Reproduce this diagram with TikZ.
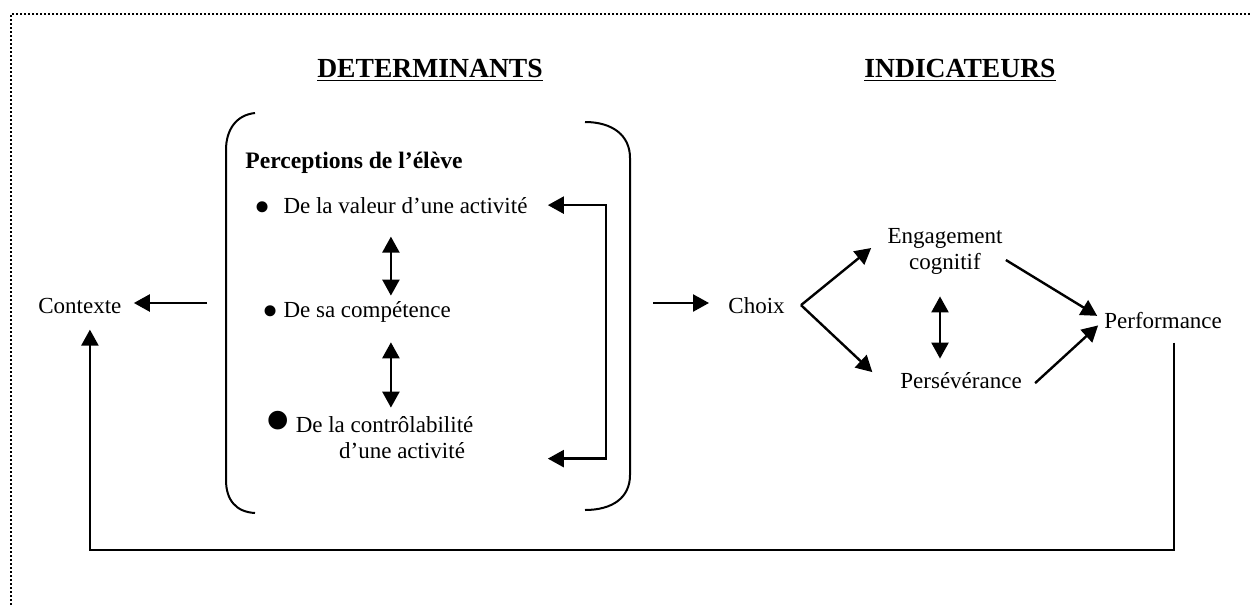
\documentclass[tikz,border=0pt]{standalone}
\usepackage{fontspec}
\usepackage{graphicx}
\setmainfont{Liberation Serif}
\usetikzlibrary{arrows.meta}
\usetikzlibrary{positioning}

\newcommand{\puce}[2]{\raisebox{#2}[0pt][0pt]{\scalebox{#1}{\textbullet}}}

\tikzset{
  txt/.style={inner sep=0pt, font=\fontsize{11.5}{13}\selectfont},
  head/.style={inner sep=0pt, font=\fontsize{13.8}{16}\selectfont\bfseries},
  itm/.style={txt, align=left},
  arr/.style={-{Triangle[length=8pt,width=8.5pt]}, line width=1.2pt},
  dbl/.style={{Triangle[length=8pt,width=8.5pt]}-{Triangle[length=8pt,width=8.5pt]}, line width=1.2pt},
  brace/.style={line width=1pt},
  dotline/.style={line width=1pt, dash pattern=on 1pt off 1pt},
}

\begin{document}
\begin{tikzpicture}[x=0.5pt,y=-0.5pt]
  \useasboundingbox (0,0) rectangle (1252,605);
  % frame
  \draw[dotline] (11,605) -- (11,14) -- (1252,14);

  % titles
  \node[head] (det) at (430,70) {\underline{DETERMINANTS}};
  \node[head] (ind) at (960,70) {\underline{INDICATEURS}};

  % perceptions (bracket)
  \draw[brace] (255,113) .. controls (236,115) and (226,130) .. (226,150)
    -- (226,480) .. controls (226,500) and (236,512) .. (255,513);
  \draw[brace] (585,122) .. controls (612,122) and (630,135) .. (630,158)
    -- (630,475) .. controls (630,498) and (612,510) .. (585,510);
  \node[txt, font=\fontsize{11.8}{13}\selectfont\bfseries, anchor=base west] (perc) at (245,168) {Perceptions de l’élève};
  \node[itm, anchor=base west] (val) at (254,213) {\puce{2}{-4.5pt}\hspace{6.5pt}De la valeur d’une activité};
  \node[itm, anchor=base west] (comp) at (262,317) {\puce{2}{-4.5pt}\hspace{2.5pt}De sa compétence};
  \node[itm, anchor=base west] (ctrl) at (264,458) {\puce{3.4}{-7pt}\hspace{2pt}De la contrôlabilité\\ \hspace*{3.25em}d’une activité};

  \draw[dbl, shorten <=11.5pt, shorten >=2.5pt] (val.south) -- (val.south |- comp.north);
  \draw[dbl, shorten <=10pt] (val.south |- comp.south) -- ([yshift=4pt]val.south |- ctrl.north);
  \draw[dbl] ([xshift=10pt]val.east) -- ++(58,0) |- ([xshift=10pt]val.east |- ctrl.south);

  % left side
  \node[txt, anchor=base west] (ctx) at (38,313) {Contexte};
  \coordinate (boxL) at (207,303);
  \draw[arr, shorten >=6pt] (boxL) -- (boxL -| ctx.east);

  % indicateurs
  \node[txt, anchor=base west] (choix) at (728,313) {Choix};
  \node[txt, align=center] (eng) at (945,251) {Engagement\\cognitif};
  \node[txt, anchor=base west] (pers) at (900,388) {Persévérance};
  \node[txt, anchor=base west] (perf) at (1104,328) {Performance};

  \coordinate (boxR) at (653,303);
  \draw[arr, shorten >=9.5pt] (boxR) -- (boxR -| choix.west);
  \coordinate (fork) at ([xshift=8pt]choix.east);
  \draw[arr, shorten >=10.3pt] (fork) -- ([yshift=8pt]eng.west);
  \draw[arr, shorten >=19pt] (fork) -- ([yshift=-9pt]pers.west);
  \draw[arr, shorten >=4pt] ([xshift=1.5pt,yshift=-4.5pt]eng.east) -- (perf.west);
  \draw[arr, shorten >=4pt] ([xshift=6.5pt,yshift=-1.5pt]pers.east) -- (perf.west);
  \draw[dbl, shorten <=11pt, shorten >=6.5pt] ([xshift=-2.5pt]eng.south) -- ([xshift=-2.5pt]eng.south |- pers.north);

  % feedback
  \coordinate (fb) at (1174,550);
  \draw[arr, shorten <=7pt, shorten >=8pt] (perf.south -| fb) -- (fb) -| ([xshift=5pt]ctx.south);
\end{tikzpicture}
\end{document}
